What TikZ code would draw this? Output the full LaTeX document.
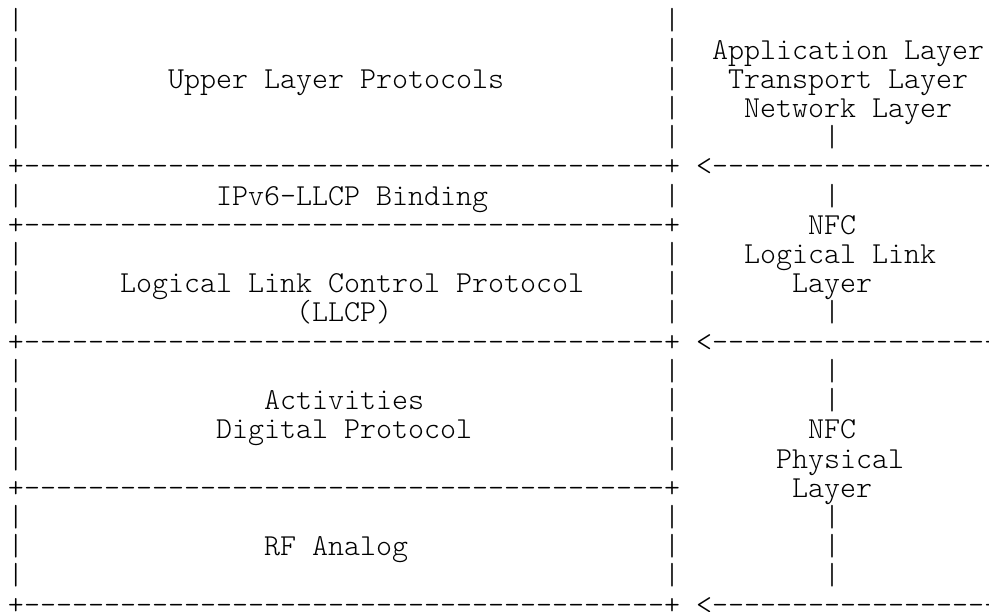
\documentclass[tikz,border=0pt]{standalone}
\usepackage{fontspec}
\newfontfamily\ascfont{lmmonolt10-regular.otf}[Ligatures=TeXOff]
% place a piece of text on the character grid: name, row, column, text
\newcommand\asccell[4]{\node[asc] (#1) at ({8+16*#3},{-30-29.2*(#2-1)}) {#4};}
\begin{document}
\begin{tikzpicture}[x=1pt,y=1pt,
  asc/.style={inner sep=0pt,outer sep=0pt,anchor=base west,
    font=\ascfont\fontsize{30.48pt}{29pt}\selectfont,text=black}]
\useasboundingbox (0,0) rectangle (989,-612);
\clip (0,0) rectangle (989,-612);
% row 1
\asccell{a1}{1}{0}{|}
\asccell{b1}{1}{41}{|}
% row 2
\asccell{a2}{2}{0}{|}
\asccell{b2}{2}{41}{|}
\asccell{app}{2}{44}{Application Layer}
% row 3
\asccell{a3}{3}{0}{|}
\asccell{ulp}{3}{10}{Upper Layer Protocols}
\asccell{b3}{3}{41}{|}
\asccell{tra}{3}{45}{Transport Layer}
% row 4
\asccell{a4}{4}{0}{|}
\asccell{b4}{4}{41}{|}
\asccell{net}{4}{46}{Network Layer}
% row 5
\asccell{a5}{5}{0}{|}
\asccell{b5}{5}{41}{|}
\asccell{c5}{5}{51}{|}
% row 6
\asccell{h6}{6}{0}{+----------------------------------------+}
\asccell{r6}{6}{43}{<-------------------}
% row 7
\asccell{a7}{7}{0}{|}
\asccell{bind}{7}{13}{IPv6-LLCP Binding}
\asccell{b7}{7}{41}{|}
\asccell{c7}{7}{51}{|}
% row 8
\asccell{h8}{8}{0}{+----------------------------------------+}
\asccell{nfc1}{8}{50}{NFC}
% row 9
\asccell{a9}{9}{0}{|}
\asccell{b9}{9}{41}{|}
\asccell{lll}{9}{46}{Logical Link}
% row 10
\asccell{a10}{10}{0}{|}
\asccell{llcp}{10}{7}{Logical Link Control Protocol}
\asccell{b10}{10}{41}{|}
\asccell{lay1}{10}{49}{Layer}
% row 11
\asccell{a11}{11}{0}{|}
\asccell{llcpab}{11}{18}{(LLCP)}
\asccell{b11}{11}{41}{|}
\asccell{c11}{11}{51}{|}
% row 12
\asccell{h12}{12}{0}{+----------------------------------------+}
\asccell{r12}{12}{43}{<-------------------}
% row 13
\asccell{a13}{13}{0}{|}
\asccell{b13}{13}{41}{|}
\asccell{c13}{13}{51}{|}
% row 14
\asccell{a14}{14}{0}{|}
\asccell{act}{14}{16}{Activities}
\asccell{b14}{14}{41}{|}
\asccell{c14}{14}{51}{|}
% row 15
\asccell{a15}{15}{0}{|}
\asccell{dig}{15}{13}{Digital Protocol}
\asccell{b15}{15}{41}{|}
\asccell{nfc2}{15}{50}{NFC}
% row 16
\asccell{a16}{16}{0}{|}
\asccell{b16}{16}{41}{|}
\asccell{phy}{16}{48}{Physical}
% row 17
\asccell{h17}{17}{0}{+----------------------------------------+}
\asccell{lay2}{17}{49}{Layer}
% row 18
\asccell{a18}{18}{0}{|}
\asccell{b18}{18}{41}{|}
\asccell{c18}{18}{51}{|}
% row 19
\asccell{a19}{19}{0}{|}
\asccell{rf}{19}{16}{RF Analog}
\asccell{b19}{19}{41}{|}
\asccell{c19}{19}{51}{|}
% row 20
\asccell{a20}{20}{0}{|}
\asccell{b20}{20}{41}{|}
\asccell{c20}{20}{51}{|}
% row 21
\asccell{h21}{21}{0}{+----------------------------------------+}
\asccell{r21}{21}{43}{<-------------------}
\end{tikzpicture}
\end{document}
